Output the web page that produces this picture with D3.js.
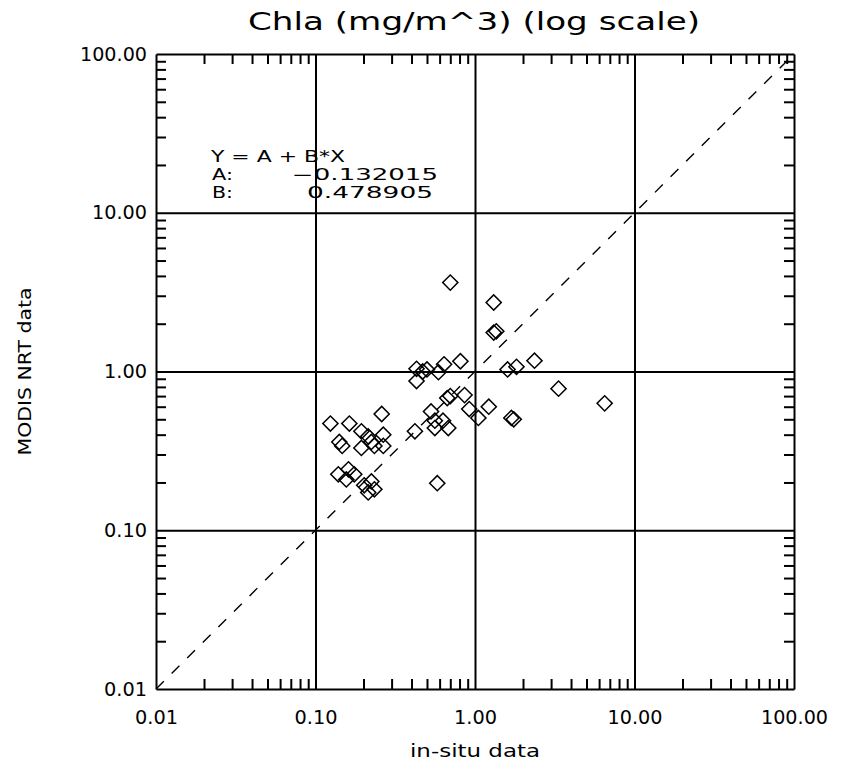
<!DOCTYPE html>
<html>
<head>
<meta charset="utf-8">
<script src="https://cdn.jsdelivr.net/npm/d3@7"></script>
<style>
  html, body { margin: 0; padding: 0; background: #fff; }
  svg { display: block; }
  text { font-family: "DejaVu Sans", "Liberation Sans", sans-serif; fill: #000; }
</style>
</head>
<body>
<svg id="chart" width="842" height="764"></svg>
<script>
// In-situ chlorophyll-a vs MODIS NRT retrievals (mg/m^3)
const insitu = [0.70, 1.31, 1.31, 1.36, 0.43, 0.47, 0.50, 0.43, 0.59, 0.64,
                0.81, 1.60, 1.82, 2.36, 3.34, 6.50, 0.67, 0.70, 0.86, 0.53,
                0.56, 0.63, 0.68, 0.56, 0.92, 1.05, 1.22, 1.69, 1.75, 0.42,
                0.26, 0.124, 0.163, 0.141, 0.147, 0.194, 0.214, 0.266, 0.224, 0.234,
                0.194, 0.266, 0.139, 0.161, 0.175, 0.156, 0.202, 0.224, 0.234, 0.214,
                0.58];
const modis  = [3.63, 2.72, 1.76, 1.79, 1.04, 1.00, 1.03, 0.87, 0.99, 1.11,
                1.16, 1.03, 1.07, 1.17, 0.78, 0.63, 0.68, 0.70, 0.71, 0.56,
                0.49, 0.49, 0.44, 0.44, 0.58, 0.51, 0.60, 0.51, 0.50, 0.42,
                0.54, 0.47, 0.47, 0.36, 0.34, 0.42, 0.39, 0.40, 0.36, 0.34,
                0.33, 0.34, 0.225, 0.242, 0.225, 0.209, 0.192, 0.203, 0.181, 0.173,
                0.198];

// Axis decades and their labels
const decades = [0.01, 0.1, 1, 10, 100];
const decadeLabels = ["0.01", "0.10", "1.00", "10.00", "100.00"];
const gridValues = [0.1, 1, 10];

// Linear fit coefficients (Y = A + B*X)
const fitA = "\u22120.132015";
const fitB = "0.478905";

const title = "Chla (mg/m^3) (log scale)";
const xTitle = "in-situ data";
const yTitle = "MODIS NRT data";

const svg = d3.select("#chart");
const L = 156, R = 794, T = 54, B = 689;

const x = d3.scaleLog().domain([0.01, 100]).range([L, R]);
const y = d3.scaleLog().domain([0.01, 100]).range([B, T]);

// minor tick values 2..9 within each decade
const minor = [];
for (const d of decades.slice(0, 4)) for (let k = 2; k <= 9; k++) minor.push(+(k * d).toPrecision(3));

// Title
svg.append("text")
  .attr("x", 474).attr("y", 30)
  .attr("text-anchor", "middle")
  .attr("font-size", 25)
  .attr("textLength", 452).attr("lengthAdjust", "spacingAndGlyphs")
  .text(title);

// Fit annotation (drawn under the grid lines)
const ann = svg.append("g").attr("font-size", 15.5);
ann.append("text").attr("x", 211).attr("y", 162)
  .attr("textLength", 134).attr("lengthAdjust", "spacingAndGlyphs")
  .text("Y = A + B*X");
ann.append("text").attr("x", 212).attr("y", 180)
  .attr("textLength", 21).attr("lengthAdjust", "spacingAndGlyphs").text("A:");
ann.append("text").attr("x", 212).attr("y", 198)
  .attr("textLength", 21).attr("lengthAdjust", "spacingAndGlyphs").text("B:");
ann.append("text").attr("x", 292).attr("y", 180)
  .attr("textLength", 146).attr("lengthAdjust", "spacingAndGlyphs")
  .text(fitA);
ann.append("text").attr("x", 307).attr("y", 198)
  .attr("textLength", 126).attr("lengthAdjust", "spacingAndGlyphs")
  .text(fitB);

// Grid lines at the inner decades
const gx = svg.append("g").attr("transform", `translate(0,${B})`)
  .call(d3.axisBottom(x).tickValues(gridValues).tickSize(-(B - T)).tickSizeOuter(0).tickFormat(""));
gx.select(".domain").remove();
const gy = svg.append("g").attr("transform", `translate(${L},0)`)
  .call(d3.axisLeft(y).tickValues(gridValues).tickSize(-(R - L)).tickSizeOuter(0).tickFormat(""));
gy.select(".domain").remove();
svg.selectAll(".tick line").attr("stroke", "#000").attr("stroke-width", 2);

// Minor ticks on all four sides, pointing inward
const tickLen = 10;
const frameAxes = [
  [d3.axisBottom(x), `translate(0,${B})`],
  [d3.axisTop(x), `translate(0,${T})`],
  [d3.axisLeft(y), `translate(${L},0)`],
  [d3.axisRight(y), `translate(${R},0)`]
];
for (const [ax, tr] of frameAxes) {
  const g = svg.append("g").attr("class", "frame").attr("transform", tr)
    .call(ax.tickValues(minor).tickSize(-tickLen).tickSizeOuter(0).tickFormat(""));
  g.select(".domain").attr("stroke", "#000").attr("stroke-width", 2);
  g.selectAll("line").attr("stroke", "#000").attr("stroke-width", 2);
}

// Decade labels, widened to the wide vector-font look
const fmt = v => decadeLabels[decades.indexOf(v)];
const labelWidth = s => s.replace(".", "").length * 12 + 7;
function styleLabels(g) {
  g.select(".domain").remove();
  g.selectAll("text")
    .attr("font-size", 19).attr("font-family", "\"DejaVu Sans\", sans-serif").attr("fill", "#000")
    .attr("textLength", d => labelWidth(fmt(d))).attr("lengthAdjust", "spacingAndGlyphs");
}
svg.append("g").attr("transform", `translate(0,${B})`)
  .call(d3.axisBottom(x).tickValues(decades).tickSize(0).tickPadding(22).tickFormat(fmt))
  .call(styleLabels);
svg.append("g").attr("transform", `translate(${L},0)`)
  .call(d3.axisLeft(y).tickValues(decades).tickSize(0).tickPadding(9).tickFormat(fmt))
  .call(styleLabels);

// Axis titles
svg.append("text")
  .attr("x", 475).attr("y", 757)
  .attr("text-anchor", "middle").attr("font-size", 18)
  .attr("textLength", 130).attr("lengthAdjust", "spacingAndGlyphs")
  .text(xTitle);
svg.append("text")
  .attr("transform", `translate(31,${(T + B) / 2}) rotate(-90)`)
  .attr("text-anchor", "middle").attr("font-size", 18)
  .attr("textLength", 168).attr("lengthAdjust", "spacingAndGlyphs")
  .text(yTitle);

// One-to-one reference line
svg.append("line")
  .attr("x1", x(0.01)).attr("y1", y(0.01))
  .attr("x2", x(100)).attr("y2", y(100))
  .attr("stroke", "#000").attr("stroke-width", 1.4)
  .attr("stroke-dasharray", "11,11");

// Scatter points as open diamonds
const diamond = d3.symbol(d3.symbolSquare, 115);
svg.append("g").selectAll("path")
  .data(insitu.map((v, i) => [v, modis[i]]))
  .join("path")
  .attr("d", diamond)
  .attr("transform", d => `translate(${x(d[0])},${y(d[1])}) rotate(45)`)
  .attr("fill", "none").attr("stroke", "#000").attr("stroke-width", 1.5);
</script>
</body>
</html>
